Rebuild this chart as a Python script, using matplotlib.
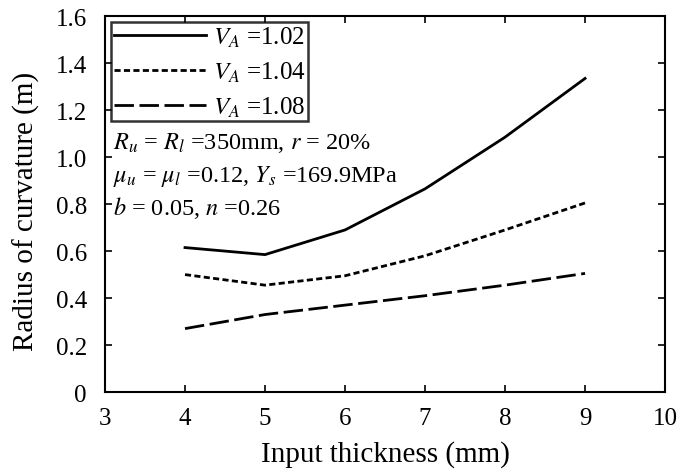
import matplotlib
matplotlib.use('Agg')
import matplotlib.pyplot as plt

plt.rcParams['font.family'] = 'Liberation Serif'
plt.rcParams['mathtext.fontset'] = 'stix'

thickness = [4, 5, 6, 7, 8, 9]
r_102 = [0.615, 0.585, 0.69, 0.865, 1.085, 1.335]
r_104 = [0.50, 0.455, 0.495, 0.58, 0.69, 0.805]
r_108 = [0.27, 0.33, 0.37, 0.41, 0.455, 0.505]
labels = ['$V_A$ =1.02', '$V_A$ =1.04', '$V_A$ =1.08']
x_ticks = [3, 4, 5, 6, 7, 8, 9, 10]
y_ticks = [0, 0.2, 0.4, 0.6, 0.8, 1.0, 1.2, 1.4, 1.6]
y_ticklabels = ['0', '0.2', '0.4', '0.6', '0.8', '1.0', '1.2', '1.4', '1.6']

fig = plt.figure(figsize=(6.94, 4.77), dpi=100)
ax = fig.add_axes([0.1513, 0.176, 0.807, 0.788])

ax.plot(thickness, r_102, color='black', lw=2.0, ls='-', label=labels[0])
ax.plot(thickness, r_104, color='black', lw=2.0, ls=(0, (2.2, 1.2)), label=labels[1])
ax.plot(thickness, r_108, color='black', lw=2.0, ls=(0, (7, 2)), label=labels[2])

ax.set_xlim(3, 10)
ax.set_ylim(0, 1.6)
ax.set_xticks(x_ticks)
ax.set_yticks(y_ticks)
ax.set_yticklabels(y_ticklabels)
ax.tick_params(direction='in', top=True, right=True, labelsize=18, length=5, width=1.2)
ax.tick_params(axis='y', pad=13)
ax.tick_params(axis='x', pad=11)
for s in ax.spines.values():
    s.set_linewidth(1.5)

ax.set_xlabel('Input thickness (mm)', fontsize=21, labelpad=8)
ax.set_ylabel('Radius of curvature (m)', fontsize=21)
ax.yaxis.set_label_coords(-0.116, 0.484)

leg = ax.legend(loc='upper left', fontsize=18, handlelength=3.7, frameon=True, fancybox=False,
                borderaxespad=0.25, borderpad=0.1, labelspacing=0.42, handletextpad=0.25)
leg.get_frame().set_edgecolor('black')
leg.get_frame().set_linewidth(1.8)

ax.text(0.015, 0.665, r'$R_u$ = $R_l$ =350mm, $r$ = 20%', transform=ax.transAxes, fontsize=17.5, va='center')
ax.text(0.015, 0.577, r'$\mu_u$ = $\mu_l$ =0.12, $Y_s$ =169.9MPa', transform=ax.transAxes, fontsize=17.5, va='center')
ax.text(0.015, 0.491, r'$b$ = 0.05, $n$ =0.26', transform=ax.transAxes, fontsize=17.5, va='center')

fig.savefig('out.png', dpi=100)
